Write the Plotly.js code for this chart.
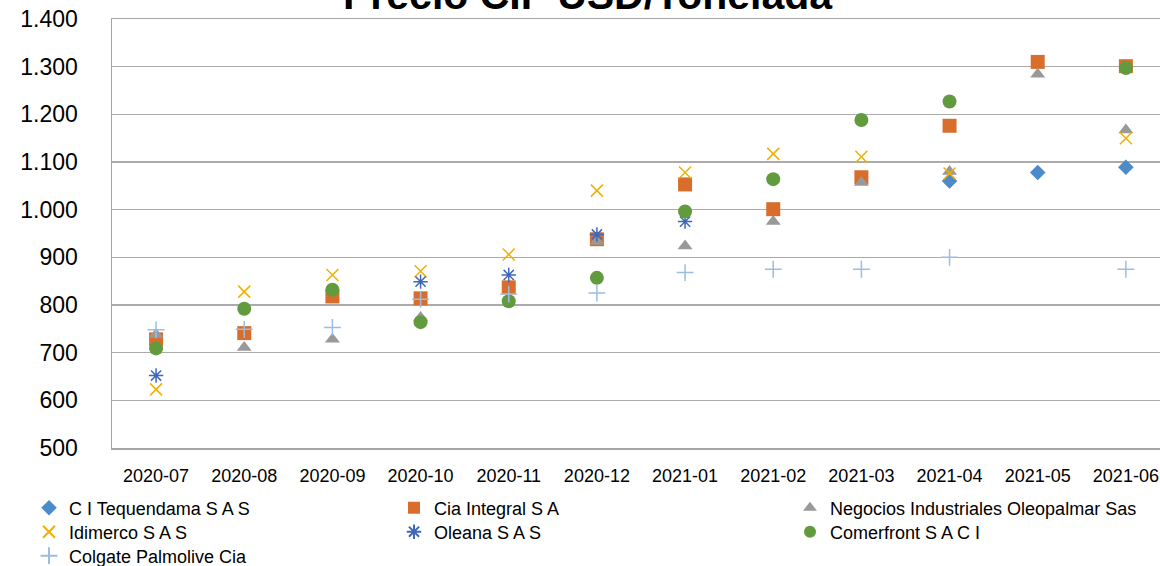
<!DOCTYPE html>
<html>
<head>
<meta charset="utf-8">
<script src="https://cdn.plot.ly/plotly-3.0.1.min.js"></script>
<style>html,body{margin:0;padding:0;background:#fff;}#chart{width:1160px;height:566px;}</style>
</head>
<body>
<div id="chart"></div>
<script>
var months = ['2020-07','2020-08','2020-09','2020-10','2020-11','2020-12','2021-01','2021-02','2021-03','2021-04','2021-05','2021-06'];
var seriesNames = ['C I Tequendama S A S','Cia Integral S A','Negocios Industriales Oleopalmar Sas','Idimerco S A S','Oleana S A S','Comerfront S A C I','Colgate Palmolive Cia'];
var tequendama = [null,null,null,null,null,null,null,null,null,1060,1078,1089];
var ciaIntegral = [728,741,818,814,837,938,1053,1001,1068,1176,1310,1301];
var negocios = [738,711,728,774,null,933,924,975,1057,1080,1284,1167];
var idimerco = [623,828,863,871,906,1040,1078,1117,1111,1076,null,1150];
var oleana = [652,null,null,849,863,948,975,null,null,null,null,null];
var comerfront = [709,792,832,764,808,857,996,1064,1188,1227,null,1297];
var colgate = [748,749,753,812,823,825,868,875,875,900,null,875];
var yTicks = [500,600,700,800,900,1000,1100,1200,1300,1400];
var chartTitle = '<b>Precio CIF USD/Tonelada</b>';

function tr(name, y, symbol, color, size, legend, lineOnly) {
  return {
    type: 'scatter', mode: 'markers', name: name, x: months, y: y,
    legend: legend,
    marker: {symbol: symbol, color: color, size: size,
             line: {color: color, width: lineOnly ? 1.5 : 0}},
    hoverinfo: 'x+y+name'
  };
}
var data = [
  tr(seriesNames[0], tequendama, 'diamond', '#4C8BC9', 12, 'legend', false),
  tr(seriesNames[1], ciaIntegral, 'square', '#D96D2B', 14, 'legend2', false),
  tr(seriesNames[2], negocios, 'triangle-up', '#999999', 13, 'legend3', false),
  tr(seriesNames[3], idimerco, 'x-thin', '#F0B000', 12, 'legend4', true),
  tr(seriesNames[4], oleana, 'asterisk', '#4068B8', 12, 'legend5', true),
  tr(seriesNames[5], comerfront, 'circle', '#629B3D', 14, 'legend6', false),
  tr(seriesNames[6], colgate, 'cross-thin', '#9DBCE2', 12, 'legend7', true)
];
var legFont = {family: 'Liberation Sans, Arial, sans-serif', size: 18, color: '#000'};
function leg(x, yc) {
  return {orientation: 'v', xref: 'container', yref: 'container', x: x, y: 1 - yc/566,
          xanchor: 'left', yanchor: 'middle', font: legFont, bgcolor: 'rgba(0,0,0,0)',
          itemsizing: 'constant', borderwidth: 0};
}
var col1 = 29/1160, col2 = 394/1160, col3 = 790/1160;
var layout = {
  width: 1160, height: 566,
  margin: {l: 112, r: 0, t: 19, b: 118, pad: 0, autoexpand: false},
  paper_bgcolor: '#fff', plot_bgcolor: '#fff',
  separators: ',.',
  showlegend: true,
  annotations: [{text: chartTitle, xref: 'paper', yref: 'paper',
                 x: (588 - 112) / 1048, y: (448 + 5) / 429, xanchor: 'center', yanchor: 'middle',
                 showarrow: false,
                 font: {family: 'Liberation Sans, Arial, sans-serif', size: 41, color: '#000'}}],
  xaxis: {type: 'category', range: [-0.5, 11.387], showgrid: false, zeroline: false,
          showline: true, mirror: true, linecolor: '#A6A6A6', linewidth: 1.5,
          ticks: 'outside', ticklen: 11, tickcolor: 'rgba(0,0,0,0)',
          tickfont: {family: 'Liberation Sans, Arial, sans-serif', size: 18, color: '#000'},
          tickangle: 0, automargin: false, fixedrange: true},
  yaxis: {range: [500, 1400], tickvals: yTicks, tickformat: ',.0f',
          showgrid: true, gridcolor: '#ABABAB', gridwidth: 1.5, zeroline: false,
          showline: true, linecolor: '#A6A6A6', linewidth: 1.5,
          ticks: 'outside', ticklen: 28, tickcolor: 'rgba(0,0,0,0)',
          tickfont: {family: 'Liberation Sans, Arial, sans-serif', size: 23, color: '#000'},
          automargin: false, fixedrange: true},
  legend: leg(col1, 508),
  legend2: leg(col2, 508),
  legend3: leg(col3, 508),
  legend4: leg(col1, 532),
  legend5: leg(col2, 532),
  legend6: leg(col3, 532),
  legend7: leg(col1, 556)
};
Plotly.newPlot('chart', data, layout, {displayModeBar: false, staticPlot: true});
</script>
</body>
</html>
